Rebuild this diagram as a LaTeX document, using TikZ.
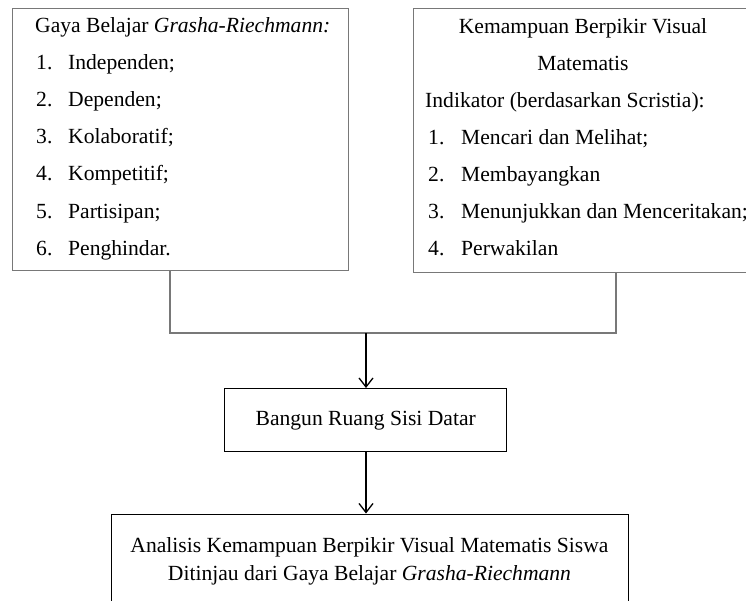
\documentclass[tikz,border=0pt]{standalone}
\usepackage{fontspec}
\setmainfont{Liberation Serif}
\usetikzlibrary{arrows.meta}
\definecolor{linegray}{RGB}{120,120,120}
\begin{document}
\begin{tikzpicture}[x=1pt,y=-1pt,
  upbox/.style={draw=linegray, line width=1.1pt, inner sep=0pt, anchor=north west},
  lowbox/.style={draw=black, line width=1.4pt, inner sep=0pt, anchor=north west},
  txt/.style={inner sep=0pt, font=\fontsize{21.6}{26}\selectfont},
  conn/.style={draw=linegray, line width=1.1pt},
  arr/.style={draw=black, line width=1.3pt, -{Straight Barb[length=9pt,width=14pt,line width=1.3pt]}}
]
\clip (0,0) rectangle (746,600);
% boxes
\node[upbox, minimum width=336pt, minimum height=262pt] (gaya) at (12,8) {};
\node[upbox, minimum width=340pt, minimum height=264pt] (kem) at (413,8) {};
\node[lowbox, minimum width=282pt, minimum height=63pt] (bangun) at (224,388) {};
\node[txt] (bangunt) at (bangun.center) {\strut Bangun Ruang Sisi Datar};
\node[lowbox, minimum width=517pt, minimum height=120pt] (anal) at (111,513.5) {};
% left box text
\node[txt, anchor=base west] (g0) at (35,32) {Gaya Belajar \textit{Grasha-Riechmann:}};
\node[txt, anchor=base west] (g1) at (36,69.2) {\makebox[32pt][l]{1.}Independen;};
\node[txt, anchor=base west] (g2) at (36,106.4) {\makebox[32pt][l]{2.}Dependen;};
\node[txt, anchor=base west] (g3) at (36,143.6) {\makebox[32pt][l]{3.}Kolaboratif;};
\node[txt, anchor=base west] (g4) at (36,180.8) {\makebox[32pt][l]{4.}Kompetitif;};
\node[txt, anchor=base west] (g5) at (36,218) {\makebox[32pt][l]{5.}Partisipan;};
\node[txt, anchor=base west] (g6) at (36,255.2) {\makebox[32pt][l]{6.}Penghindar.};
% right box text
\node[txt, anchor=base] (k0) at (583,33) {Kemampuan Berpikir Visual};
\node[txt, anchor=base] (k1) at (583,70) {Matematis};
\node[txt, anchor=base west] (k2) at (425,107) {Indikator (berdasarkan Scristia):};
\node[txt, anchor=base west] (k3) at (428,144.5) {\makebox[33pt][l]{1.}Mencari dan Melihat;};
\node[txt, anchor=base west] (k4) at (428,181.5) {\makebox[33pt][l]{2.}Membayangkan};
\node[txt, anchor=base west] (k5) at (428,218.5) {\makebox[33pt][l]{3.}Menunjukkan dan Menceritakan;};
\node[txt, anchor=base west] (k6) at (428,255.5) {\makebox[33pt][l]{4.}Perwakilan};
% bottom box text
\node[txt, anchor=base] (a1) at (369.5,552) {Analisis Kemampuan Berpikir Visual Matematis Siswa};
\node[txt, anchor=base] (a2) at (369.5,580.5) {Ditinjau dari Gaya Belajar \textit{Grasha-Riechmann}};
% connectors
\coordinate (jl) at (170,333);
\coordinate (jr) at (616,333);
\coordinate (jm) at (366,333);
\draw[conn] (gaya.south -| jl) -- (jl) -- (jr) -- (kem.south -| jr);
\draw[arr] (jm) -- (jm |- bangun.north);
\draw[arr] (bangun.south -| jm) -- (jm |- anal.north);
\end{tikzpicture}
\end{document}
